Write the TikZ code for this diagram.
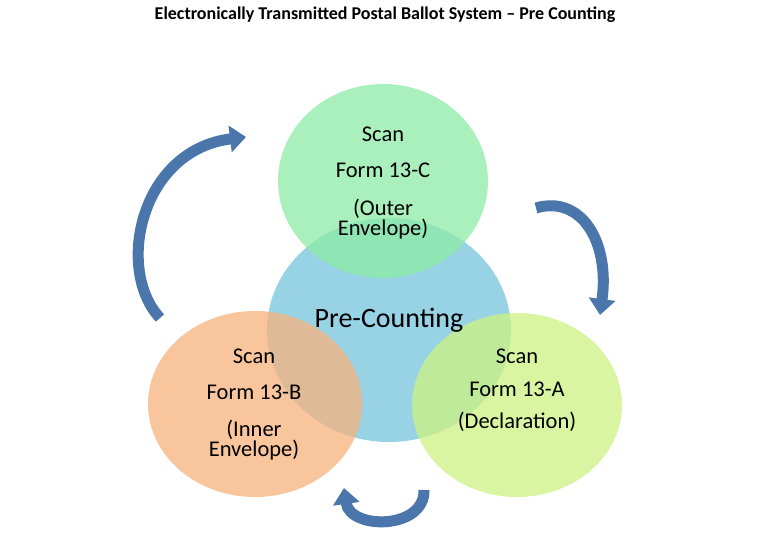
\documentclass[tikz,border=0pt]{standalone}
\usepackage{fontspec}
\setmainfont{Carlito}
\usetikzlibrary{arrows.meta,shapes.geometric}
\definecolor{cgreen}{HTML}{8EEBA6}
\definecolor{cblue}{HTML}{8CCDE2}
\definecolor{corange}{HTML}{F6B27C}
\definecolor{cyellow}{HTML}{CDF282}
\definecolor{arrowblue}{HTML}{4A76AC}
\tikzset{
  lbl/.style={font=\fontsize{22.5}{25}\selectfont, align=center, text=black},
  bigarrow/.style={draw=arrowblue, line width=11pt, -{Triangle[width=26pt,length=16pt]}, arrowblue},
}
\begin{document}
\begin{tikzpicture}[x=1pt,y=-1pt]
\useasboundingbox (0,0) rectangle (770,540);
\node[font=\bfseries\fontsize{18}{20}\selectfont] (title) at (385,15) {Electronically Transmitted Postal Ballot System -- Pre Counting};
\fill[cblue, fill opacity=0.9] (389,330) ellipse [x radius=122, y radius=112];
\fill[cgreen, fill opacity=0.75] (383,181) ellipse [x radius=105, y radius=97];
\fill[corange, fill opacity=0.75] (255,404) ellipse [x radius=107, y radius=93];
\fill[cyellow, fill opacity=0.75] (517,405) ellipse [x radius=105, y radius=92];
\node[lbl, font=\fontsize{28}{32}\selectfont] (c) at (389,320) {Pre-Counting};
\node[lbl] (t1) at (383,134) {Scan};
\node[lbl] (t2) at (383,170) {Form 13-C};
\node[lbl] (t3) at (383,219) {(Outer\\[-5pt]Envelope)};
\node[lbl] (l1) at (254,356) {Scan};
\node[lbl] (l2) at (254,392) {Form 13-B};
\node[lbl] (l3) at (254,440) {(Inner\\[-5pt]Envelope)};
\node[lbl] (r1) at (517,356) {Scan};
\node[lbl] (r2) at (517,389) {Form 13-A};
\node[lbl] (r3) at (517,422) {(Declaration)};
\coordinate (a1s) at (160,318);
\coordinate (a1e) at (246,137);
\coordinate (a2s) at (536,208);
\coordinate (a2e) at (600,315);
\coordinate (a3s) at (424,490);
\coordinate (a3e) at (344,488);
\draw[bigarrow] (a1s) .. controls (115,270) and (140,150) .. (a1e);
\draw[bigarrow] (a2s) .. controls (580,195) and (610,240) .. (a2e);
\draw[bigarrow] (a3s) .. controls (425,530) and (350,530) .. (a3e);
\end{tikzpicture}
\end{document}
